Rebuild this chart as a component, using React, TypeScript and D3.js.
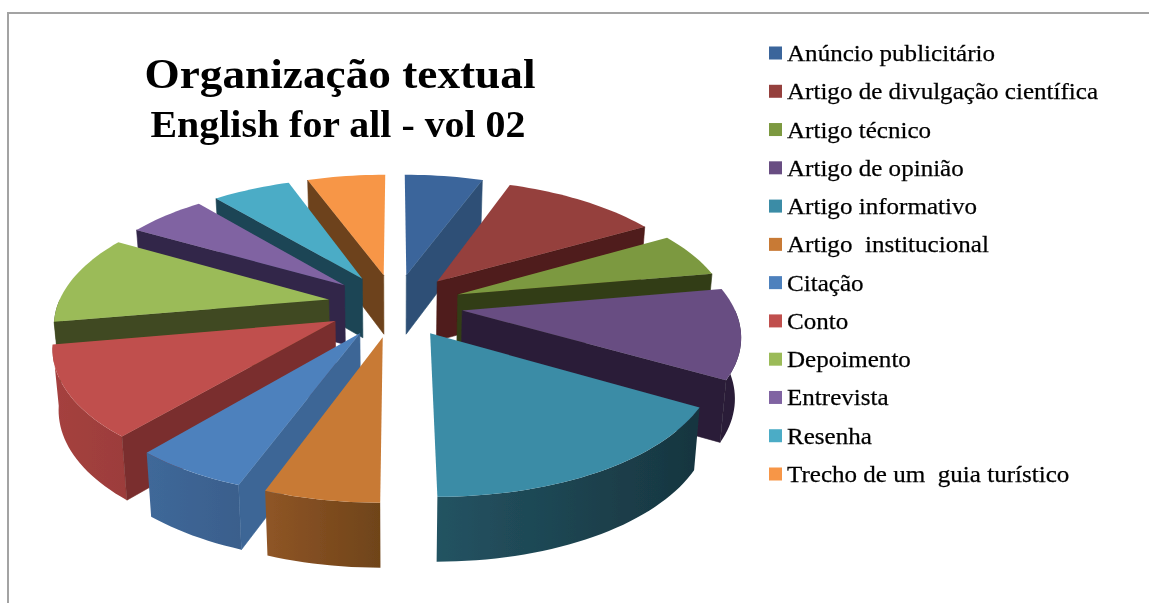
import React from "react";
import * as d3 from "d3";

const categories = [
  "Anúncio publicitário",
  "Artigo de divulgação científica",
  "Artigo técnico",
  "Artigo de opinião",
  "Artigo informativo",
  "Artigo  institucional",
  "Citação",
  "Conto",
  "Depoimento",
  "Entrevista",
  "Resenha",
  "Trecho de um  guia turístico",
];
const values = [1, 2, 1, 2, 3, 1, 1, 2, 2, 1, 1, 1];

const topColors = ["#3B659B", "#953F3D", "#7C993F", "#674E82", "#3A8CA6", "#C87A34", "#4E81BD", "#C0504D", "#9BBB59", "#8064A2", "#4BACC6", "#F79646"];
const wallColors = ["#2D5076", "#4F1B1A", "#333D18", "#2B1E37", "#17353F", "#7F4A20", "#3C6696", "#7A2F2D", "#3F4A20", "#33264A", "#1C4454", "#6D421B"];
const arcLeft = ["#2D5076", "#4F1B1A", "#333D18", "#2B1E37", "#235362", "#8F5526", "#3F6899", "#A5413F", "#3F4A20", "#33264A", "#1C4454", "#6D421B"];
const arcRight = ["#2D5076", "#4F1B1A", "#333D18", "#2B1E37", "#17353F", "#6F4419", "#3A5F8C", "#9C3D3B", "#3F4A20", "#33264A", "#1C4454", "#6D421B"];

const CX = 395, CY = 305, RADIUS = 271, VSCALE = 126, PERSP = 0.165, EXPLODE = 0.25;
const LEGEND_STRETCH = 1.09;

function project(X: number, Y: number, drop: number): [number, number] {
  const s = 1 / (1 - PERSP * Y);
  return [
    CX + X * RADIUS * s * (1 - 0.018 * drop),
    CY + VSCALE * Y * s + drop * (60 + 4 * Y),
  ];
}

const line = d3.line<[number, number]>();
const HALF = Math.PI / 2;

function arcAngles(a0: number, a1: number): number[] {
  const n = Math.max(2, Math.ceil((a1 - a0) / 0.03));
  return d3.range(n + 1).map((i) => a0 + ((a1 - a0) * i) / n);
}

export default function App() {
  const pie = d3.pie<number>().sort(null).startAngle(0).endAngle(2 * Math.PI);
  const arcs = pie(values).map((d, i) => {
    const mid = (d.startAngle + d.endAngle) / 2;
    return { i, a0: d.startAngle, a1: d.endAngle, mid };
  });
  const order = [...arcs].sort((a, b) => Math.cos(b.mid) - Math.cos(a.mid));

  const slices = order.map(({ i, a0, a1, mid }) => {
    const ox = EXPLODE * Math.sin(mid);
    const oy = -EXPLODE * Math.cos(mid);
    const pt = (r: number, a: number, drop: number) =>
      project(ox + r * Math.sin(a), oy - r * Math.cos(a), drop);

    const top = [pt(0, 0, 0), ...arcAngles(a0, a1).map((a) => pt(1, a, 0))];
    const wallA = mid < Math.PI ? a1 : a0;
    const showWall = Math.abs(Math.sin(wallA)) > 1e-6;
    const wall = [pt(0, 0, 0), pt(1, wallA, 0), pt(1, wallA, 1), pt(0, 0, 1)];
    const fa0 = Math.max(a0, HALF);
    const fa1 = Math.min(a1, 3 * HALF);
    const front =
      fa1 > fa0
        ? [
            ...arcAngles(fa0, fa1).map((a) => pt(1, a, 0)),
            ...arcAngles(fa0, fa1).reverse().map((a) => pt(1, a, 1)),
          ]
        : null;
    return (
      <g key={i}>
        {front && <path d={line(front)! + "Z"} fill={`url(#arc${i})`} />}
        {showWall && <path d={line(wall)! + "Z"} fill={wallColors[i]} stroke={wallColors[i]} strokeWidth={0.6} />}
        <path d={line(top)! + "Z"} fill={topColors[i]} />
      </g>
    );
  });

  const legendY = d3.scaleLinear().domain([0, categories.length - 1]).range([53, 474]);
  const font = "'Liberation Serif', serif";

  return (
    <svg
      width={1149}
      height={603}
      viewBox="0 0 1149 603"
      style={{ position: "fixed", left: 0, top: 0, display: "block", background: "#fff" }}
    >
      <defs>
        <filter id="soft" x="-5%" y="-5%" width="110%" height="110%">
          <feGaussianBlur stdDeviation="0.7" />
        </filter>
        <filter id="softText" x="-5%" y="-20%" width="110%" height="140%">
          <feGaussianBlur stdDeviation="0.45" />
        </filter>
        {categories.map((_, i) => (
          <linearGradient key={i} id={`arc${i}`} x1="0" x2="1" y1="0" y2="0">
            <stop offset="0" stopColor={arcLeft[i]} />
            <stop offset="1" stopColor={arcRight[i]} />
          </linearGradient>
        ))}
      </defs>
      <rect x={8} y={13} width={2000} height={2000} fill="#fff" stroke="#a3a3a3" strokeWidth={2} />
      <g filter="url(#soft)">{slices}</g>
      <g filter="url(#softText)" fontFamily={font} fill="#000">
        <text x={340} y={88} textAnchor="middle" fontSize={43} fontWeight="bold" textLength={391} lengthAdjust="spacingAndGlyphs">
          Organização textual
        </text>
        <text x={338} y={137} textAnchor="middle" fontSize={37} fontWeight="bold" textLength={375} lengthAdjust="spacingAndGlyphs">
          English for all - vol 02
        </text>
        {categories.map((c, i) => (
          <g key={c}>
            <rect x={769} y={legendY(i) - 6.5} width={13} height={13} fill={topColors[i]} />
            <text
              transform={`translate(787,${legendY(i) + 8}) scale(${LEGEND_STRETCH},1)`}
              fontSize={23}
              stroke="#000"
              strokeWidth={0.25}
              style={{ whiteSpace: "pre" }}
            >
              {c}
            </text>
          </g>
        ))}
      </g>
    </svg>
  );
}
